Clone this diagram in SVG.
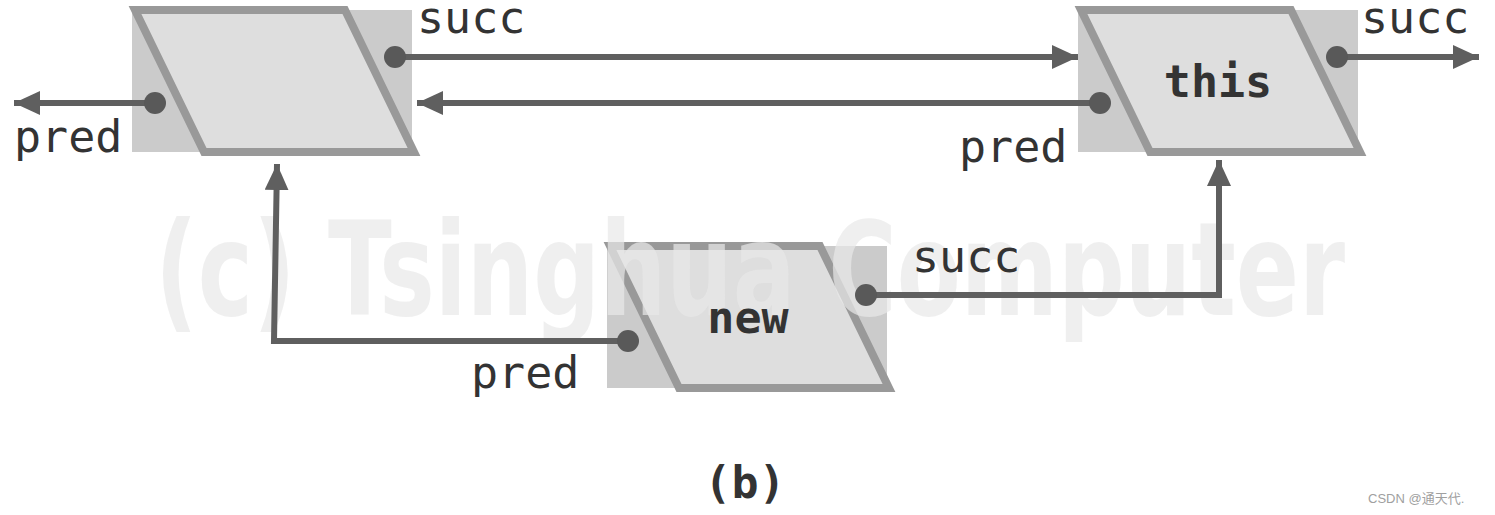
<svg xmlns="http://www.w3.org/2000/svg" xmlns:xlink="http://www.w3.org/1999/xlink" width="1495" height="515" viewBox="0 0 1495 515">
  <style>
    .back { fill: #cbcbcb; }
    .para { fill: #dedede; stroke: #999999; stroke-width: 8; stroke-linejoin: miter; }
    .lbl { font-family: "DejaVu Sans Mono", "Liberation Mono", monospace; font-size: 45px; fill: #333333; }
    .name { font-family: "DejaVu Sans Mono", "Liberation Mono", monospace; font-size: 45px; font-weight: bold; fill: #333333; }
    .wire { fill: none; stroke: #5f5f5f; stroke-width: 6; }
    .dot { fill: #595959; }
    .wm { font-family: "DejaVu Sans", "Liberation Sans", sans-serif; font-size: 130px; font-weight: bold; fill: #e8e8e8; fill-opacity: 0.7; }
    .csdn { font-family: "Liberation Sans", "Noto Sans CJK SC", sans-serif; font-size: 13px; fill: #a0a0a0; }
  </style>
  <defs>
    <marker id="arr" markerUnits="userSpaceOnUse" markerWidth="28" markerHeight="26" viewBox="0 0 28 26" refX="26" refY="12" orient="auto">
      <path d="M0,0 L26,12 L0,24 Z" fill="#5f5f5f"/>
    </marker>
    <g id="shape">
      <rect class="back" x="0" y="0" width="280" height="142"/>
      <polygon class="para" points="3,0 213,0 282,142 72,142"/>
    </g>
  </defs>

  <rect width="1495" height="515" fill="#ffffff"/>

  <g id="node-prev" transform="translate(132,10)">
    <use xlink:href="#shape"/>
  </g>
  <g id="node-this" transform="translate(1078,10)">
    <use xlink:href="#shape"/>
  </g>
  <g id="node-new" transform="translate(607,246)">
    <use xlink:href="#shape"/>
  </g>

  <text class="wm" x="155" y="315" textLength="1190" lengthAdjust="spacingAndGlyphs">(c) Tsinghua Computer</text>

  <g id="node-names">
    <text class="name" x="1218" y="97" text-anchor="middle">this</text>
    <text class="name" x="748" y="333" text-anchor="middle">new</text>
  </g>

  <g id="connectors">
    <line class="wire" x1="395" y1="57" x2="1078" y2="57" marker-end="url(#arr)"/>
    <line class="wire" x1="1100" y1="103" x2="417" y2="103" marker-end="url(#arr)"/>
    <line class="wire" x1="155" y1="103" x2="14" y2="103" marker-end="url(#arr)"/>
    <line class="wire" x1="1338" y1="57" x2="1479" y2="57" marker-end="url(#arr)"/>
    <polyline class="wire" points="866,295 1219,295 1219,160" marker-end="url(#arr)"/>
    <polyline class="wire" points="628,341 274,341 277,164" marker-end="url(#arr)"/>
    <circle class="dot" cx="395" cy="57" r="11"/>
    <circle class="dot" cx="155" cy="103" r="11"/>
    <circle class="dot" cx="1100" cy="103" r="11"/>
    <circle class="dot" cx="1337" cy="57" r="11"/>
    <circle class="dot" cx="866" cy="295" r="11"/>
    <circle class="dot" cx="628" cy="341" r="11"/>
  </g>

  <g id="labels">
    <text class="lbl" x="417" y="33">succ</text>
    <text class="lbl" x="14" y="152">pred</text>
    <text class="lbl" x="959" y="162">pred</text>
    <text class="lbl" x="1361" y="33">succ</text>
    <text class="lbl" x="912" y="272">succ</text>
    <text class="lbl" x="471" y="388">pred</text>
    <text class="name" x="745" y="498" text-anchor="middle">(b)</text>
    <text class="csdn" x="1368" y="503">CSDN @通天代.</text>
  </g>
</svg>
